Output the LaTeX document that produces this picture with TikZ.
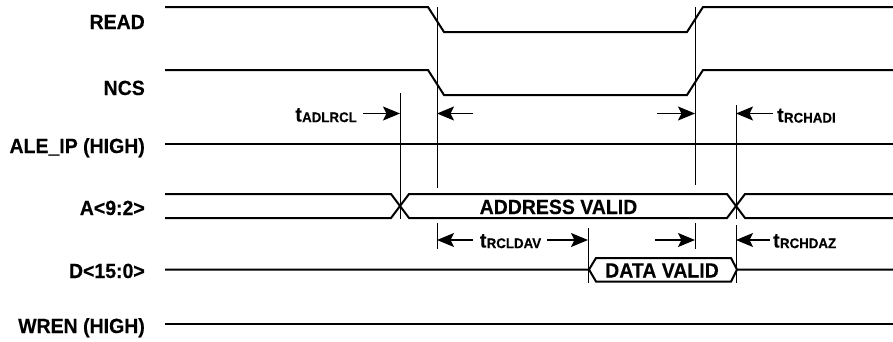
\documentclass[tikz,border=0pt]{standalone}
\usepackage{fontspec}
\setmainfont{Liberation Sans}
\newfontfamily\hvc[FakeStretch=0.95,BoldFeatures={FakeBold=0.3}]{Liberation Sans}
\usetikzlibrary{arrows.meta}
\newcommand\tlab[1]{t\kern0.3pt\raisebox{-0.6pt}{\fontsize{14}{15}\selectfont #1}}
\begin{document}
\begin{tikzpicture}[x=1pt,y=-1pt,
  sig/.style={line width=2pt,line join=miter},
  guide/.style={line width=0.8pt},
  dimarrow/.style={line width=1.3pt,-{Stealth[length=17pt,width=14pt,inset=3.5pt]}},
  lbl/.style={font=\hvc\fontsize{20.5}{23}\bfseries\selectfont,inner sep=0pt},
  tlbl/.style={font=\hvc\fontsize{20.5}{23}\bfseries\selectfont,inner sep=0pt}]
\useasboundingbox (0,0) rectangle (893,341);
% signal names
\node[lbl,anchor=base east] (nread) at (145,29) {READ};
\node[lbl,anchor=base east] (nncs) at (145,95) {NCS};
\node[lbl,anchor=base east] (nale) at (145,153) {ALE\_IP (HIGH)};
\node[lbl,anchor=base east] (naddr) at (145,215) {A<9:2>};
\node[lbl,anchor=base east] (ndata) at (145,278) {D<15:0>};
\node[lbl,anchor=base east] (nwren) at (145,333) {WREN (HIGH)};
% waveforms
\draw[sig] (165,7) -- (428,7) -- (444,32) -- (687,32) -- (703,7) -- (893,7);
\draw[sig] (165,70) -- (428,70) -- (444,95) -- (687,95) -- (703,70) -- (893,70);
\draw[sig] (165,144) -- (893,144);
\draw[sig] (165,194) -- (391,194) -- (409,218) -- (727,218) -- (745,194) -- (893,194);
\draw[sig] (165,218) -- (391,218) -- (409,194) -- (727,194) -- (745,218) -- (893,218);
\draw[sig] (165,269.5) -- (589,269.5) -- (596,258) -- (731,258) -- (737,269.5) -- (893,269.5);
\draw[sig] (589,269.5) -- (596,281.5) -- (731,281.5) -- (737,269.5);
\draw[sig] (165,324) -- (893,324);
\node[lbl,anchor=base] (addrvalid) at (558.5,214) {ADDRESS VALID};
\node[lbl,anchor=base] (datavalid) at (662,277.5) {DATA VALID};
% guide lines
\coordinate (g1t) at (400,93);   \coordinate (g1b) at (400,219);
\coordinate (g2t) at (437,7);    \coordinate (g2b) at (437,188);
\coordinate (g3t) at (695,7);    \coordinate (g3b) at (695,185);
\coordinate (g4t) at (736,105);  \coordinate (g4b) at (736,219);
\coordinate (g5t) at (437,223);  \coordinate (g5b) at (437,249);
\coordinate (g6t) at (695,223);  \coordinate (g6b) at (695,249);
\coordinate (g7t) at (588,228);  \coordinate (g7b) at (588,283);
\coordinate (g8t) at (736,225);  \coordinate (g8b) at (736,283);
\foreach \n in {1,...,8} \draw[guide] (g\n t) -- (g\n b);
% timing arrows, upper row
\coordinate (a1s) at (363,113.5); \coordinate (a1e) at (400,113.5);
\coordinate (a2s) at (473,113.5); \coordinate (a2e) at (437,113.5);
\coordinate (a3s) at (657,113.5); \coordinate (a3e) at (695,113.5);
\coordinate (a4s) at (773,113.5); \coordinate (a4e) at (736,113.5);
\draw[dimarrow] (a1s) -- (a1e);
\draw[dimarrow] (a2s) -- (a2e);
\draw[dimarrow] (a3s) -- (a3e);
\draw[dimarrow] (a4s) -- (a4e);
\node[tlbl,anchor=base east] (tadlrcl) at (357,121.5) {\tlab{ADLRCL}};
\node[tlbl,anchor=base west] (trchadi) at (777,122) {\tlab{RCHADI}};
% timing arrows, lower row
\coordinate (b1s) at (473,240); \coordinate (b1e) at (437,240);
\coordinate (b2s) at (547,240); \coordinate (b2e) at (588,240);
\coordinate (b3s) at (655,240); \coordinate (b3e) at (695,240);
\coordinate (b4s) at (770,240); \coordinate (b4e) at (736,240);
\draw[dimarrow] (b1s) -- (b1e);
\draw[dimarrow] (b2s) -- (b2e);
\draw[dimarrow] (b3s) -- (b3e);
\draw[dimarrow] (b4s) -- (b4e);
\node[tlbl,anchor=base] (trcldav) at (510.5,247.5) {\tlab{RCLDAV}};
\node[tlbl,anchor=base west] (trchdaz) at (773,247.5) {\tlab{RCHDAZ}};
\end{tikzpicture}
\end{document}
